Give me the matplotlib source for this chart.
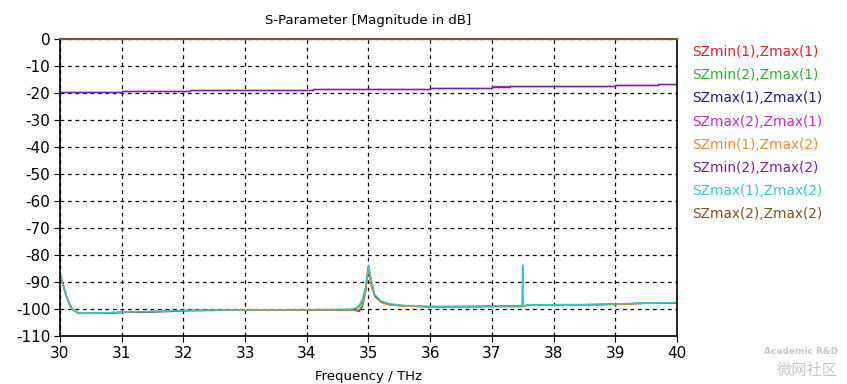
import matplotlib
matplotlib.use("Agg")
import matplotlib.pyplot as plt

plt.rcParams['font.family'] = ['DejaVu Sans', 'Noto Sans CJK SC']
plt.rcParams['axes.unicode_minus'] = False

# legend names and colours
names = ['SZmin(1),Zmax(1)', 'SZmin(2),Zmax(1)', 'SZmax(1),Zmax(1)', 'SZmax(2),Zmax(1)',
         'SZmin(1),Zmax(2)', 'SZmin(2),Zmax(2)', 'SZmax(1),Zmax(2)', 'SZmax(2),Zmax(2)']
colors = ['#e02020', '#30b030', '#1a1a96', '#c828c8',
          '#e88c30', '#6e22b0', '#30c8c8', '#82501a']

# traces at 0 dB
flat_f = [30, 40]
flat_db = [0, 0]

# upper traces around -20 dB
upper_f = [30, 30.35, 31, 32.1, 33, 34.1, 34.3, 35, 36, 37, 37.3, 38.5, 39, 39.7, 40]
upper_db = [-19.8, -19.5, -19.3, -18.9, -18.8, -18.7, -18.5, -18.4, -18.1, -17.7,
            -17.5, -17.3, -17.1, -16.6, -16.5]
upper_db2 = [-19.8, -19.5, -19.3, -18.9, -18.8, -18.6, -18.5, -18.4, -18.1, -17.6,
             -17.5, -17.3, -17.1, -16.6, -16.5]

# lower traces around -100 dB
low_f = [30, 30.05, 30.1, 30.15, 30.2, 30.3, 30.7, 31, 31.8, 32, 33, 34, 34.7, 34.8,
         34.85, 34.9, 34.95, 35.0, 35.05, 35.1, 35.2, 35.35, 35.6, 36, 36.7, 37, 37.5,
         37.6, 38.5, 39, 39.5, 40]
low_green = [-87, -91, -95, -98, -100, -101.5, -101.5, -101.2, -100.8, -100.6, -100.4,
             -100.3, -100.2, -99.8, -99, -97.5, -93, -84, -91, -95, -97.3, -98.3, -98.8,
             -99.1, -99.1, -99.0, -98.9, -98.5, -98.4, -98.2, -97.8, -97.7]
low_blue = [-87, -91, -95, -98, -100.2, -101.6, -101.6, -101.3, -100.9, -100.6, -100.4,
            -100.4, -100.3, -100.6, -100.8, -99, -94, -84.5, -91.5, -95.2, -97.4, -98.4,
            -98.9, -99.2, -99.1, -99.0, -98.9, -98.6, -98.5, -98.2, -97.9, -97.7]
low_orange = [-87, -91.2, -95.2, -98.2, -100.2, -101.7, -101.6, -101.2, -100.7, -100.6,
              -100.5, -100.4, -100.3, -100.5, -100.2, -98.5, -94, -85, -92, -95.5, -97.6,
              -98.6, -99.0, -99.2, -99.3, -99.2, -99.2, -98.6, -98.6, -98.4, -97.9, -97.7]
low_cyan = [-86.7, -90.8, -94.8, -97.8, -100, -101.4, -101.4, -101.1, -100.7, -100.5,
            -100.3, -100.2, -100.1, -99.6, -98.5, -96.5, -92, -83.7, -89.5, -94.5, -97,
            -98.1, -98.7, -99.0, -99.0, -98.9, -98.9, -98.4, -98.3, -98.1, -97.7, -97.6]
spike_f = [37.49, 37.5, 37.5, 37.51]
spike_db = [-98.9, -83.7, -93, -98.5]

fig = plt.figure(figsize=(8.47, 3.84), dpi=100)
ax = fig.add_axes([0.0708, 0.125, 0.7285, 0.7735])

ax.plot(low_f, low_green, color=colors[1], lw=1)
ax.plot(low_f, low_blue, color=colors[2], lw=1)
ax.plot(low_f, low_orange, color=colors[4], lw=1)
ax.plot(low_f, low_cyan, color=colors[6], lw=1)
ax.plot(spike_f, spike_db, color=colors[6], lw=1.2)
ax.plot(upper_f, upper_db2, color=colors[3], lw=1, drawstyle='steps-post')
ax.plot(upper_f, upper_db, color=colors[5], lw=1, drawstyle='steps-post')
ax.plot(flat_f, flat_db, color=colors[0], lw=1.5, clip_on=False)
ax.plot(flat_f, flat_db, color=colors[7], lw=1.5, clip_on=False, zorder=5)

ax.set_xlim(30, 40)
ax.set_ylim(-110, 0)
ax.set_xticks(range(30, 41))
ax.set_yticks(range(-110, 1, 10))
ax.grid(True, color='black', linestyle=(0, (3, 3)), lw=0.9)
ax.tick_params(direction='out', length=4, labelsize=11, pad=3)
for s in ax.spines.values():
    s.set_linewidth(1.2)

ax.set_title('S-Parameter [Magnitude in dB]', fontsize=9.5, pad=11)
ax.set_xlabel('Frequency / THz', fontsize=9.5, labelpad=7)

for i, (n, c) in enumerate(zip(names, colors)):
    fig.text(692 / 847, 1 - (52 + i * 23.2) / 384, n, color=c, fontsize=9.8, va='center')

fig.text(838 / 847, 1 - 352 / 384, 'Academic R&D', color='#c8c8c8', fontsize=6.5,
         ha='right', va='center', weight='bold')
fig.text(838 / 847, 1 - 370 / 384, '微网社区', color='#c8c8c8', fontsize=11,
         ha='right', va='center', family=['Noto Sans CJK SC', 'DejaVu Sans'])

fig.savefig('out.png', dpi=100)
